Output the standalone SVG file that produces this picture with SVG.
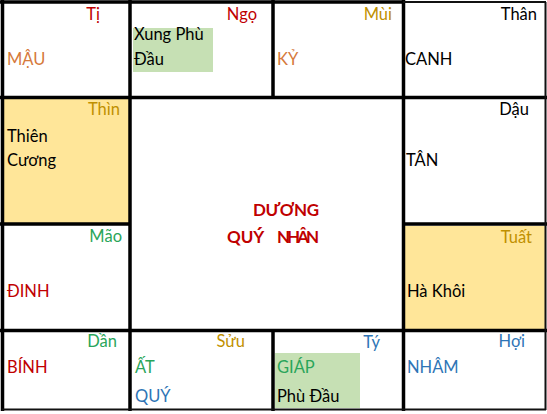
<svg xmlns="http://www.w3.org/2000/svg" width="547" height="414" viewBox="0 0 547 414">
<style>
text{font-family:Lato,"Noto Sans","Liberation Sans",sans-serif;font-size:16.5px}
.r{text-anchor:end}
.red{fill:#c00000}
.org{fill:#d67a3c}
.gold{fill:#bf9000}
.grn{fill:#2aa55a}
.blu{fill:#2e75b6}
.blk{fill:#000}
.yel{fill:#ffe699}
.gbox{fill:#c6e0b4}
.big{font-weight:bold;font-size:17px;fill:#c00000}
.thick{stroke:#000;stroke-width:3.5;fill:none}
.thin{stroke:#111;stroke-width:2;fill:none}
</style>
<rect x="0" y="0" width="547" height="414" fill="#fff"/>
<g id="cell-ti">
<text class="r red" x="100" y="20">Tị</text>
<text class="org" x="7" y="65">MẬU</text>
</g>
<g id="cell-ngo">
<rect class="gbox" x="133" y="28" width="80" height="44"/>
<text class="r red" x="257" y="20">Ngọ</text>
<text class="blk" x="134" y="40">Xung Phù</text>
<text class="blk" x="134" y="65">Đầu</text>
</g>
<g id="cell-mui">
<text class="r gold" x="392" y="20">Mùi</text>
<text class="org" x="277" y="65">KỶ</text>
</g>
<g id="cell-than">
<text class="r blk" x="537" y="20">Thân</text>
<text class="blk" x="405" y="65">CANH</text>
</g>
<g id="cell-thin">
<rect class="yel" x="4" y="99" width="125" height="124"/>
<text class="r gold" x="120" y="115">Thìn</text>
<text class="blk" x="7" y="142">Thiên</text>
<text class="blk" x="7" y="166">Cương</text>
</g>
<g id="cell-dau">
<text class="r blk" x="529" y="115">Dậu</text>
<text class="blk" x="406" y="166">TÂN</text>
</g>
<g id="cell-center">
<text class="big" x="286" y="216" text-anchor="middle" textLength="66">DƯƠNG</text>
<text class="big" y="243"><tspan x="227">QUÝ</tspan> <tspan x="277" textLength="42">NHÂN</tspan></text>
</g>
<g id="cell-mao">
<text class="r grn" x="122" y="242">Mão</text>
<text class="red" x="7" y="297">ĐINH</text>
</g>
<g id="cell-tuat">
<rect class="yel" x="405" y="226" width="141" height="104"/>
<text class="r gold" x="532" y="243">Tuất</text>
<text class="blk" x="407" y="297">Hà Khôi</text>
</g>
<g id="cell-dan">
<text class="r grn" x="117" y="347">Dần</text>
<text class="red" x="7" y="373">BÍNH</text>
</g>
<g id="cell-suu">
<text class="r gold" x="245" y="347">Sửu</text>
<text class="grn" x="135" y="373">ẤT</text>
<text class="blu" x="135" y="402">QUÝ</text>
</g>
<g id="cell-ty">
<rect class="gbox" x="275" y="353" width="85" height="55"/>
<text class="r blu" x="380" y="348">Tý</text>
<text class="grn" x="277" y="373">GIÁP</text>
<text class="blk" x="277" y="402">Phù Đầu</text>
</g>
<g id="cell-hoi">
<text class="r blu" x="525" y="347">Hợi</text>
<text class="blu" x="407" y="373">NHÂM</text>
</g>
<g id="connectors">
<path class="thick" d="M0 2H404M2.5 0V411M130 0V411M273 0V97M273 331V411M403.5 0V411M0 97.5H547M0 224H130M403 224H547M0 330.5H547"/>
<path class="thin" d="M403 2H546M545.5 2V410M2 409.5H546"/>
</g>
</svg>
